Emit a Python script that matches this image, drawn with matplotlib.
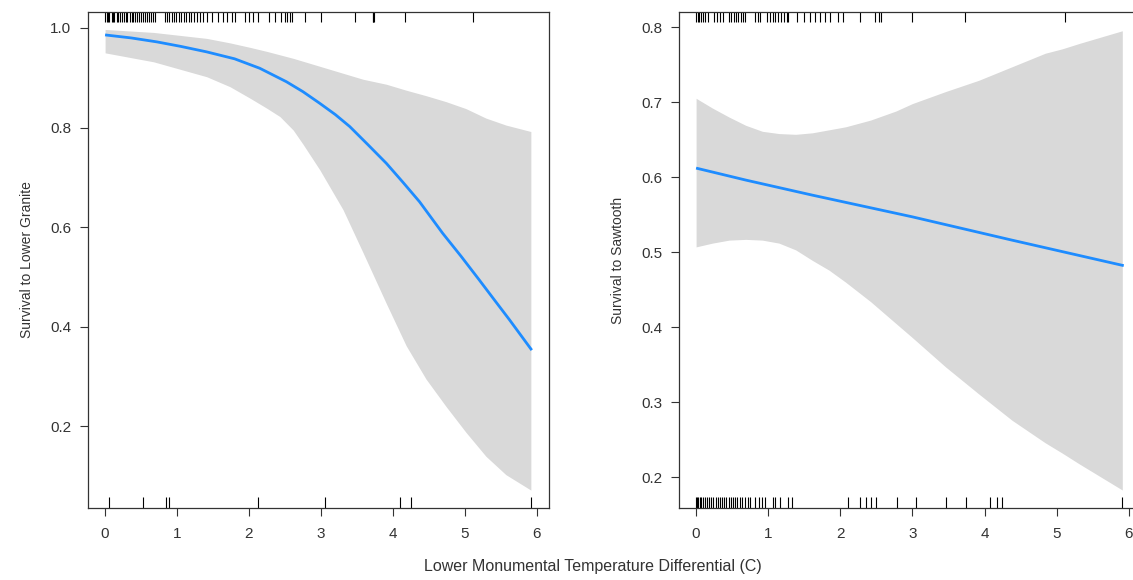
import matplotlib.pyplot as plt
import matplotlib.transforms as mtransforms

plt.rcParams["font.family"] = ["Liberation Sans", "DejaVu Sans"]

# Lower Granite: fitted survival and confidence band
lg_x = [0.0, 0.36, 0.72, 1.05, 1.41, 1.80, 2.15, 2.52, 2.75, 2.98, 3.20, 3.40, 3.65, 3.91, 4.14,
        4.37, 4.69, 4.95, 5.20, 5.42, 5.62, 5.93]
lg_fit = [0.986, 0.980, 0.972, 0.963, 0.952, 0.938, 0.919, 0.892, 0.872, 0.849, 0.826, 0.802,
          0.766, 0.728, 0.690, 0.651, 0.588, 0.541, 0.494, 0.452, 0.414, 0.353]
lg_band_x = [0.0, 0.674, 1.413, 1.736, 2.014, 2.245, 2.43, 2.614, 2.753, 2.984, 3.307, 3.584,
             3.907, 4.184, 4.46, 4.738, 5.015, 5.292, 5.57, 5.917]
lg_upper = [0.997, 0.991, 0.979, 0.970, 0.961, 0.953, 0.946, 0.939, 0.933, 0.923, 0.909, 0.897,
            0.887, 0.875, 0.864, 0.852, 0.838, 0.819, 0.805, 0.792]
lg_lower = [0.950, 0.932, 0.902, 0.882, 0.859, 0.839, 0.822, 0.795, 0.766, 0.715, 0.635, 0.549,
            0.447, 0.362, 0.295, 0.240, 0.188, 0.140, 0.103, 0.072]

# Sawtooth: fitted survival and confidence band
st_x = [0.0, 0.69, 1.61, 3.0, 4.38, 5.93]
st_fit = [0.612, 0.596, 0.576, 0.547, 0.516, 0.482]
st_band_x = [0.0, 0.226, 0.457, 0.688, 0.919, 1.15, 1.381, 1.612, 1.843, 2.073, 2.42, 2.77,
             3.0, 3.46, 3.92, 4.38, 4.84, 5.08, 5.31, 5.91]
st_upper = [0.705, 0.692, 0.680, 0.669, 0.661, 0.658, 0.657, 0.659, 0.663, 0.667, 0.676, 0.688,
            0.698, 0.714, 0.729, 0.747, 0.765, 0.771, 0.778, 0.795]
st_lower = [0.507, 0.512, 0.516, 0.517, 0.516, 0.512, 0.503, 0.489, 0.476, 0.460, 0.434, 0.405,
            0.386, 0.347, 0.311, 0.276, 0.246, 0.232, 0.218, 0.183]

# observed temperature differentials (survived on top, not detected on bottom)
lg_rug_top = [0.0, 0.02, 0.04, 0.06, 0.09, 0.11, 0.13, 0.16, 0.18, 0.21, 0.24, 0.26, 0.29, 0.31,
              0.34, 0.37, 0.39, 0.42, 0.45, 0.47, 0.50, 0.53, 0.56, 0.58, 0.61, 0.64, 0.67, 0.70,
              0.83, 0.86, 0.89, 0.93, 0.96, 0.99, 1.03, 1.06, 1.10, 1.13, 1.17, 1.20, 1.24, 1.28,
              1.32, 1.36, 1.42, 1.49, 1.57, 1.64, 1.69, 1.77, 1.81, 1.95, 2.00, 2.05, 2.13, 2.28,
              2.36, 2.45, 2.50, 2.53, 2.57, 2.60, 2.78, 3.00, 3.48, 3.72, 3.73, 3.74, 4.17, 5.11]
lg_rug_bottom = [0.05, 0.52, 0.85, 0.89, 2.12, 3.05, 4.10, 4.25, 5.92]
st_rug_top = [0.0, 0.02, 0.04, 0.07, 0.10, 0.13, 0.16, 0.25, 0.29, 0.33, 0.37, 0.45, 0.48,
              0.52, 0.55, 0.58, 0.62, 0.65, 0.68, 0.82, 0.86, 0.89, 0.98, 1.02, 1.06, 1.10,
              1.14, 1.18, 1.22, 1.26, 1.28, 1.40, 1.49, 1.58, 1.65, 1.72, 1.79, 1.86, 1.97,
              2.04, 2.27, 2.48, 2.53, 2.57, 3.00, 3.73, 5.11]
st_rug_bottom = [0.0, 0.01, 0.03, 0.05, 0.07, 0.10, 0.13, 0.15, 0.18, 0.21, 0.24, 0.27, 0.30,
                 0.33, 0.36, 0.39, 0.42, 0.45, 0.48, 0.51, 0.54, 0.57, 0.61, 0.64, 0.68, 0.72,
                 0.75, 0.82, 0.87, 0.91, 0.96, 1.07, 1.10, 1.16, 1.27, 1.33, 2.11, 2.27, 2.36,
                 2.43, 2.50, 2.78, 3.05, 3.46, 3.74, 4.08, 4.17, 4.24, 5.90]

x_ticks = [0, 1, 2, 3, 4, 5, 6]
lg_yticks = [0.2, 0.4, 0.6, 0.8, 1.0]
st_yticks = [0.2, 0.3, 0.4, 0.5, 0.6, 0.7, 0.8]

BAND = "#d9d9d9"
LINE = "#1e8cff"
INK = "#333333"


def draw_panel(ax, fx, fit, bx, upper, lower, rug_top, rug_bottom, yticks, ylim, ylabel, fmt):
    ax.fill_between(bx, lower, upper, color=BAND, linewidth=0)
    ax.plot(fx, fit, color=LINE, linewidth=2.0, solid_capstyle="butt", solid_joinstyle="round")

    trans = mtransforms.blended_transform_factory(ax.transData, ax.transAxes)
    ax.vlines(rug_top, 0.979, 1.0, transform=trans, color="black", linewidth=0.8)
    ax.vlines(rug_bottom, 0.0, 0.022, transform=trans, color="black", linewidth=0.8)

    ax.set_xlim(-0.237, 6.17)
    ax.set_ylim(*ylim)
    ax.set_xticks(x_ticks)
    ax.set_xticklabels([str(t) for t in x_ticks])
    ax.set_yticks(yticks)
    ax.set_yticklabels([fmt.format(t) for t in yticks])
    ax.tick_params(direction="out", length=6, width=0.8, color=INK, labelcolor=INK,
                   labelsize=11, pad=8)
    ax.tick_params(axis="y", pad=6)
    for s in ax.spines.values():
        s.set_color(INK)
        s.set_linewidth(0.9)
    ax.set_ylabel(ylabel, fontsize=10, color=INK, labelpad=12)


fig = plt.figure(figsize=(11.33, 5.8), dpi=100)
ax1 = fig.add_axes([0.0777, 0.1241, 0.4069, 0.8552])
ax2 = fig.add_axes([0.5993, 0.1241, 0.4078, 0.8552])

draw_panel(ax1, lg_x, lg_fit, lg_band_x, lg_upper, lg_lower, lg_rug_top, lg_rug_bottom,
           lg_yticks, (0.036, 1.032), "Survival to Lower Granite", "{:.1f}")
draw_panel(ax2, st_x, st_fit, st_band_x, st_upper, st_lower, st_rug_top, st_rug_bottom,
           st_yticks, (0.159, 0.820), "Survival to Sawtooth", "{:.1f}")

fig.text(0.523, 0.024, "Lower Monumental Temperature Differential (C)", ha="center",
         va="center", fontsize=11.5, color=INK)

fig.savefig("out.png", dpi=100)
